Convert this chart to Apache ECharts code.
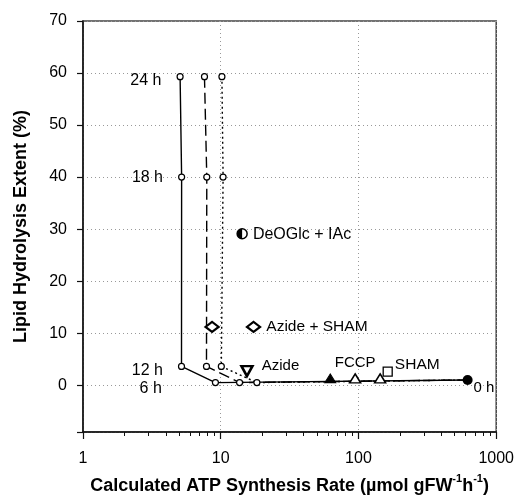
<!DOCTYPE html>
<html lang="en">
<head>
<meta charset="UTF-8">
<title>ATP synthesis rate vs lipid hydrolysis</title>
<script src="https://cdn.jsdelivr.net/npm/echarts@6/dist/echarts.min.js"></script>
<style>html,body{margin:0;padding:0;background:#fff;}</style>
</head>
<body>
<div id="main" style="width:517px;height:500px;"></div>
<script>
// time course (24 h -> 0 h), three curves
var timeLabels = ['24 h', '18 h', '12 h', '6 h', '0 h'];
var solidX = [5.07, 5.2, 5.19, 9.15, 620];
var solidY = [59.3, 40, 3.6, 0.5, 1.0];
var dashX = [7.62, 7.92, 7.88, 13.7, 620];
var dashY = [59.3, 40, 3.6, 0.5, 1.0];
var dotX = [10.2, 10.4, 10.1, 18.3, 620];
var dotY = [59.3, 40, 3.6, 0.5, 1.0];

// inhibitor treatments
var treatNames = ['DeOGlc + IAc', '(1)', 'Azide + SHAM', 'Azide', 'filled', 'FCCP', 'open', 'SHAM'];
var treatX = [14.3, 8.65, 17.3, 15.5, 62.4, 94.6, 143.6, 163];
var treatY = [29.1, 11.2, 11.2, 2.7, 1.3, 1.3, 1.3, 2.6];

// axis ticks
var xTicks = [1, 10, 100, 1000];
var xMinor = [2, 3, 4, 5, 6, 7, 8, 9, 20, 30, 40, 50, 60, 70, 80, 90, 200, 300, 400, 500, 600, 700, 800, 900];
var yTicks = [0, 10, 20, 30, 40, 50, 60, 70];

var font = 'Liberation Sans, Arial, sans-serif';

// helper axis runs in decades (0..3), so minor tick spots are log10 of the values
var minorPos = xMinor.map(function (v) { return Math.log10(v); });

function lineData(xs, ys, withLabels) {
    var out = [];
    for (var i = 0; i < xs.length; i++) {
        var item = {value: [xs[i], ys[i]]};
        if (i === xs.length - 1) item.symbol = 'none';
        if (withLabels && i < xs.length - 1) {
            var lab = [
                {distance: 15, offset: [0, 4]},
                {distance: 15, offset: [0, 1]},
                {distance: 15, offset: [0, 4]},
                {distance: 50, offset: [0, 6]}
            ][i];
            item.label = {show: true, position: 'left', distance: lab.distance, offset: lab.offset,
                formatter: timeLabels[i], fontSize: 16, color: '#000', fontFamily: font};
        }
        out.push(item);
    }
    return out;
}

// marker looks, one per treatment
var treatStyle = [
    {symbol: 'circle', size: 10, fill: '#fff', bw: 1.5, label: {position: 'right', distance: 5, offset: [0, 1], fontSize: 16}},
    {symbol: 'diamond', size: [13, 10], fill: '#fff', bw: 2.3, label: null},
    {symbol: 'diamond', size: [13, 10], fill: '#fff', bw: 2.3, label: {position: 'right', distance: 5, offset: [0, 0], fontSize: 15.5}},
    {symbol: 'triangle', rotate: 180, size: [11, 10], fill: '#fff', bw: 2.5, label: {position: 'right', distance: 8, offset: [0, -5], fontSize: 15}},
    {symbol: 'triangle', size: [11, 9], fill: '#000', bw: 1, label: null},
    {symbol: 'triangle', size: [11, 9], fill: '#fff', bw: 1.5, label: {position: 'top', distance: 3, offset: [0, 0], fontSize: 15}},
    {symbol: 'triangle', size: [11, 9], fill: '#fff', bw: 1.5, label: null},
    {symbol: 'rect', size: 9, fill: '#fff', bw: 1.3, label: {position: 'right', distance: 2, offset: [0, -7], fontSize: 15.5}}
];
var noteText = {1: '(1)', 2: '(3)'};

var series = [];
series.push({
    type: 'line', data: lineData(solidX, solidY, true), symbol: 'circle', symbolSize: 6,
    lineStyle: {color: '#000', width: 1.4},
    itemStyle: {color: '#fff', borderColor: '#000', borderWidth: 1.2}
});
series.push({
    type: 'line', data: lineData(dashX, dashY, false), symbol: 'circle', symbolSize: 6,
    lineStyle: {color: '#000', width: 1.4, type: [11, 5]},
    itemStyle: {color: '#fff', borderColor: '#000', borderWidth: 1.2}
});
series.push({
    type: 'line', data: lineData(dotX, dotY, false), symbol: 'circle', symbolSize: 6,
    lineStyle: {color: '#000', width: 1.4, type: [2, 3]},
    itemStyle: {color: '#fff', borderColor: '#000', borderWidth: 1.2}
});
// 0 h point
series.push({
    type: 'scatter', symbol: 'circle', symbolSize: 10,
    data: [{value: [solidX[4], solidY[4]]}],
    itemStyle: {color: '#000', opacity: 1},
    label: {show: true, position: 'right', distance: 1, offset: [0, 8], formatter: timeLabels[4],
        fontSize: 15, color: '#000', fontFamily: font}
});

treatX.forEach(function (x, i) {
    var st = treatStyle[i];
    var lab = {show: false};
    if (st.label) {
        lab = {show: true, position: st.label.position, distance: st.label.distance, offset: st.label.offset,
            formatter: treatNames[i], fontSize: st.label.fontSize, color: '#000', fontFamily: font};
    }
    series.push({
        type: 'scatter', symbol: st.symbol, symbolSize: st.size, symbolRotate: st.rotate || 0,
        data: [[x, treatY[i]]], z: 5,
        itemStyle: {color: st.fill, borderColor: '#000', borderWidth: st.bw, opacity: 1},
        label: lab
    });
    if (noteText[i]) {
        series.push({
            type: 'scatter', symbol: 'none', data: [[x, treatY[i]]], z: 5,
            itemStyle: {opacity: 1},
            label: {show: true, position: 'top', distance: 7, formatter: noteText[i], fontSize: 12,
                fontStyle: 'italic', color: '#000', fontFamily: font}
        });
    }
});
// left half of the DeOGlc + IAc circle is black
series.push({
    type: 'scatter', symbol: 'path://M10,0 A10,10 0 0 0 10,20 Z', symbolSize: [5, 10], symbolOffset: [-2.5, 0],
    data: [[treatX[0], treatY[0]]], z: 6,
    itemStyle: {color: '#000', opacity: 1}
});

var myChart = echarts.init(document.getElementById('main'));
myChart.setOption({
    animation: false,
    grid: {left: 83, right: 19, top: 21, bottom: 63, show: true, borderColor: '#444', borderWidth: 1.5},
    xAxis: [{
        type: 'log', logBase: 10, min: xTicks[0], max: xTicks[xTicks.length - 1],
        name: '{t|Calculated ATP Synthesis Rate (µmol gFW}{s|-1}{t|h}{s|-1}{t|)}',
        nameLocation: 'middle', nameGap: 41,
        nameTextStyle: {
            rich: {
                t: {fontSize: 18, fontWeight: 'bold', color: '#000', fontFamily: font, lineHeight: 22, verticalAlign: 'bottom'},
                s: {fontSize: 11, fontWeight: 'bold', color: '#000', fontFamily: font, lineHeight: 11, verticalAlign: 'top'}
            }
        },
        axisLine: {onZero: false, lineStyle: {color: '#111', width: 1.5}},
        axisTick: {length: 7, lineStyle: {color: '#111', width: 1.2}},
        axisLabel: {fontSize: 16, color: '#000', margin: 19, fontFamily: font,
            formatter: function (v) { return String(v); }},
        splitLine: {show: true, lineStyle: {type: [1, 3], color: '#999'}}
    }, {
        // minor ticks 2..9 of every decade
        type: 'value', min: 0, max: 3, position: 'bottom', show: true,
        axisLine: {show: true, onZero: false, lineStyle: {color: 'rgba(0,0,0,0)'}},
        axisTick: {show: true, customValues: minorPos, length: 4, lineStyle: {color: '#111', width: 1}},
        axisLabel: {show: true, customValues: minorPos, formatter: function () { return ''; }},
        splitLine: {show: false}
    }],
    yAxis: {
        type: 'value', min: -9, max: yTicks[yTicks.length - 1], splitNumber: 8,
        name: 'Lipid Hydrolysis Extent (%)', nameLocation: 'middle', nameGap: 53,
        nameTextStyle: {fontSize: 18, fontWeight: 'bold', color: '#000', fontFamily: font},
        axisLine: {show: true, onZero: false, lineStyle: {color: '#111', width: 1.5}},
        axisTick: {show: true, length: 6, lineStyle: {color: '#111', width: 1.2}},
        axisLabel: {fontSize: 16, color: '#000', margin: 16, fontFamily: font,
            formatter: function (v) { return yTicks.indexOf(v) >= 0 ? String(v) : ''; }},
        splitLine: {show: true, lineStyle: {type: [1, 3], color: '#999'}}
    },
    series: series
});
</script>
</body>
</html>
